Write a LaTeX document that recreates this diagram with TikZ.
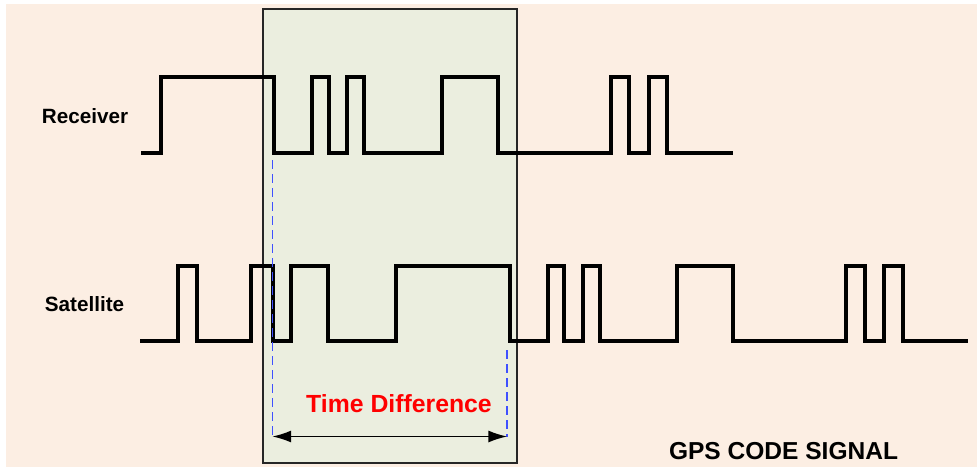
\documentclass[tikz,border=0pt]{standalone}
\usepackage{fontspec}
\setmainfont{Liberation Sans}
\usepackage{tikz}
\usetikzlibrary{arrows.meta}
\usepackage{xcolor}
\definecolor{paper}{HTML}{FCEEE3}
\definecolor{window}{HTML}{EBEEDF}
\definecolor{marker}{HTML}{3F50FF}
\definecolor{frame}{HTML}{262626}

\begin{document}
\begin{tikzpicture}[
      x=0.75pt, y=-0.75pt,
      wave/.style={line width=2.6pt, black},
      signame/.style={font=\bfseries\fontsize{15.5}{18}\selectfont, inner sep=0pt},
      marker/.style={draw=marker, line width=1.4pt, dash pattern=on 7pt off 3.5pt}
    ]
      \useasboundingbox (0,0) rectangle (977,467);
      \fill[paper] (6,4) rectangle (977,467);
      \node[draw=frame, line width=1pt, fill=window, minimum width=190.5pt, minimum height=340.5pt, inner sep=0pt] (win) at (390,236) {};
      % receiver code
      \draw[wave] (141,153) -| (161,77) -| (274,153) -| (312,77) -| (329,153) -| (347,77) -| (364,153) -| (442,77) -| (498,153) -| (611,77) -| (629,153) -| (649,77) -| (667,153) -- (733,153);
      % satellite code
      \draw[wave] (140,341) -| (178,266) -| (197,341) -| (251,266) -| (273,341) -| (291,266) -| (328,341) -| (396,266) -| (510,341) -| (548,266) -| (564,341) -| (583,266) -| (600,341) -| (677,266) -| (733,341) -| (846,266) -| (865,341) -| (884,266) -| (903,341) -- (968,341);
      \coordinate (tl) at (272.5,160);
      \coordinate (tr) at (507,350);
      \coordinate (bl) at (272.5,436.5);
      \coordinate (br) at (507,436.5);
      \draw[marker] (tl) -- (bl);
      \draw[marker] (tr) -- (br);
      \draw[{Latex[length=14pt,width=9pt]}-{Latex[length=14pt,width=9pt]}, line width=1pt] (bl) -- (br);
      \node[signame] (rx) at (85,116) {Receiver};
      \node[signame] (sat) at (84.5,304) {Satellite};
      \node[font=\bfseries\fontsize{18.6}{22}\selectfont, text=red, inner sep=0pt] (td) at (399,404) {Time Difference};
      \node[font=\bfseries\fontsize{18.4}{22}\selectfont, inner sep=0pt] (title) at (783.5,451.3) {GPS CODE SIGNAL};
    \end{tikzpicture}
\end{document}
